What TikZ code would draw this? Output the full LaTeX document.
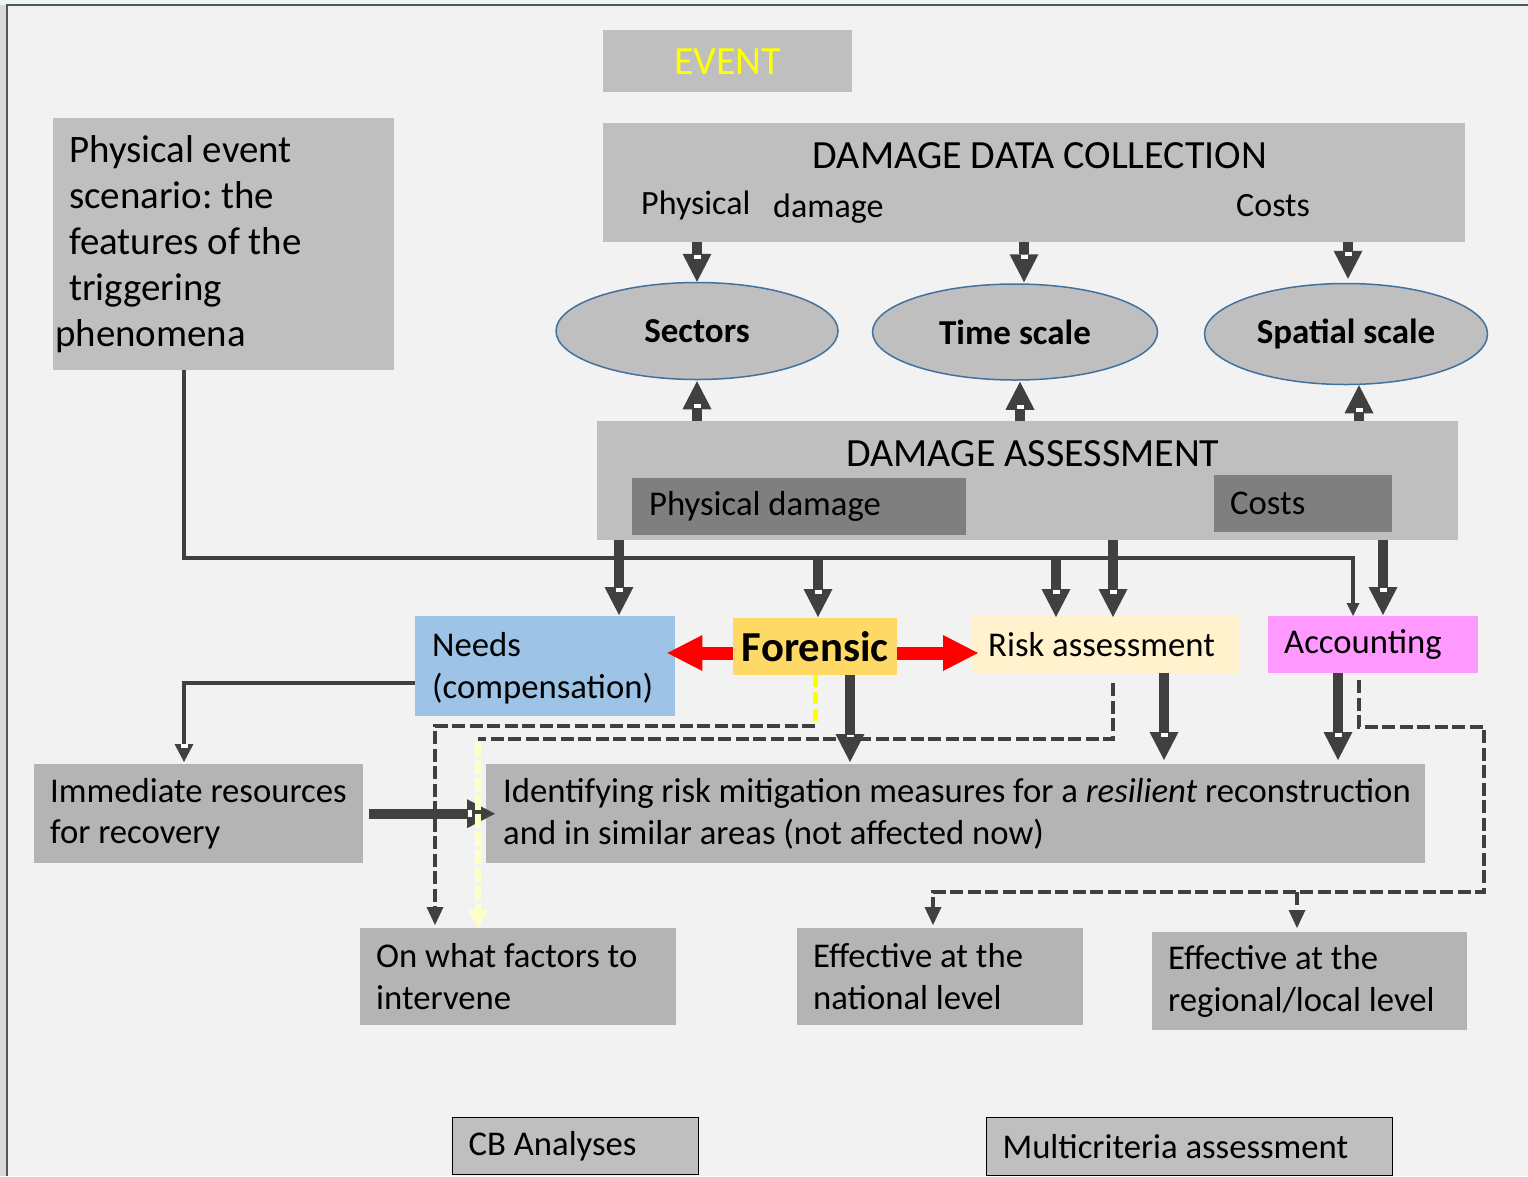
\documentclass[tikz,border=0pt]{standalone}
\usepackage{fontspec}
\setmainfont{Carlito}
\usetikzlibrary{arrows.meta,shapes.geometric,decorations.markings}
\definecolor{boxgray}{HTML}{BFBFBF}
\definecolor{boxgrayb}{HTML}{B4B4B4}
\definecolor{innergray}{HTML}{7F7F7F}
\definecolor{arr}{HTML}{404040}
\definecolor{paper}{HTML}{F2F2F2}
\definecolor{margin}{HTML}{D9D9D9}
\definecolor{topstrip}{HTML}{EEF6F6}
\definecolor{framec}{HTML}{555555}
\definecolor{needsblue}{HTML}{9DC3E6}
\definecolor{forgold}{HTML}{FFD966}
\definecolor{riskcream}{HTML}{FFF2CC}
\definecolor{accpink}{HTML}{FF99FF}
\definecolor{ellblue}{HTML}{41719C}
\definecolor{paleyellow}{HTML}{FFFFC8}
\definecolor{eventyellow}{HTML}{FFFF00}
\newcommand{\bodyfont}{\fontsize{34.7pt}{41.5pt}\selectfont}
\frenchspacing
\hbadness=10000
\hfuzz=100pt
\begin{document}
\begin{tikzpicture}[x=1pt,y=-1pt,
  box/.style={rectangle, fill=boxgray, inner ysep=0pt, inner xsep=16pt,
    anchor=north west, align=left, font=\bodyfont,
    execute at begin node={\spaceskip=0pt\xspaceskip=0pt\relax}},
  lightbox/.style={box, fill=boxgrayb},
  oval/.style={ellipse, fill=boxgray, draw=ellblue, line width=1.5pt,
    inner sep=0pt, font=\fontsize{35pt}{40pt}\selectfont\bfseries},
  notch/.style={postaction={decorate, decoration={markings,
    mark=at position -#1 with {\fill[white] (-2pt,-3.5pt) rectangle (2pt,3.5pt);}}}},
  fat/.style={draw=arr, line width=10pt,
    -{Triangle[width=29pt,length=28pt,line width=0pt]}, notch=25pt},
  medium/.style={draw=arr, line width=4pt,
    -{Triangle[width=19pt,length=18pt,line width=0pt]}, notch=16pt},
  slim/.style={draw=arr, line width=4pt,
    -{Triangle[width=13pt,length=13pt,line width=0pt]}},
  dashline/.style={draw=arr, line width=4pt, dash pattern=on 13pt off 4.5pt},
  dashtip/.style={-{Triangle[width=17pt,length=18pt,line width=0pt]}},
  redarrow/.style={draw=red, line width=13pt,
    -{Triangle[width=36pt,length=35pt,line width=0pt]}}
]
\useasboundingbox (0,0) rectangle (1528,1176);

% page background and frame
\fill[margin] (0,0) rectangle (1528,1176);
\fill[topstrip] (0,0) rectangle (1528,5);
\fill[paper] (7,5) rectangle (1528,1176);
\draw[framec, line width=2.5pt] (7,1176) -- (7,5) -- (1528,5);

% top row
\node[box, text width=217pt, minimum height=62pt, align=center,
  font=\fontsize{40pt}{46pt}\selectfont, text=eventyellow] (ev) at (603,30) {EVENT};
\node[box, text width=309pt, minimum height=252pt,
  font=\fontsize{38.9pt}{46pt}\selectfont] (pe) at (53,118)
  {Physical event\\scenario: the\\features of the\\triggering\\\hspace*{-14pt}phenomena};

\node[box, minimum width=862pt, minimum height=119pt, inner sep=0pt] (ddc) at (603,123) {};
\node[font=\fontsize{40pt}{46pt}\selectfont] (ddct) at (1040,156) {DAMAGE DATA COLLECTION};
\node[anchor=west, inner sep=0pt, font=\fontsize{34pt}{40pt}\selectfont] (ddcp) at (641,205) {Physical};
\node[anchor=west, inner sep=0pt, font=\fontsize{34pt}{40pt}\selectfont] (ddcd) at (773,209) {damage};
\node[anchor=west, inner sep=0pt, font=\fontsize{34pt}{40pt}\selectfont] (ddcc) at (1236,206) {Costs};

% ellipses
\node[oval, minimum width=282pt, minimum height=97pt] (sec) at (697,331) {Sectors};
\node[oval, minimum width=285pt, minimum height=96pt] (tim) at (1015,332) {Time scale};
\node[oval, minimum width=283pt, minimum height=101pt] (spa) at (1346,334) {Spatial scale};

% damage assessment
\node[box, minimum width=861pt, minimum height=119pt, inner sep=0pt] (da) at (597,421) {};
\node[font=\fontsize{40pt}{46pt}\selectfont] (dat) at (1033,454) {DAMAGE ASSESSMENT};
\node[box, fill=innergray, inner xsep=17pt, text width=300pt, minimum height=57pt] (dapd) at (632,478) {Physical damage};
\node[box, fill=innergray, inner xsep=16pt, text width=146pt, minimum height=57pt] (dacs) at (1214,475) {Costs};

% middle row
\node[box, fill=needsblue, inner xsep=17pt, text width=226pt, minimum height=100pt] (needs) at (415,616) {\rule{0pt}{28pt}Needs\\(compensation)};
\node[box, fill=forgold, inner xsep=0pt, text width=164pt, minimum height=57pt, align=center,
  font=\fontsize{42.7pt}{48pt}\selectfont\bfseries] (for) at (733,618) {Forensic};
\node[box, fill=riskcream, text width=235pt, minimum height=57pt] (risk) at (972,616) {Risk assessment};
\node[box, fill=accpink, text width=178pt, minimum height=57pt] (acc) at (1268,616) {Accounting};

% lower boxes
\node[lightbox, text width=297pt, minimum height=99pt] (imm) at (34,764) {Immediate resources\\for recovery};
\node[lightbox, inner xsep=17pt, text width=905pt, minimum height=99pt] (idf) at (486,764)
  {\mbox{Identifying risk mitigation measures for a \textit{resilient} reconstruction}\\and in similar areas (not affected now)};
\node[lightbox, text width=284pt, minimum height=97pt] (onw) at (360,928) {On what factors to\\intervene};
\node[lightbox, text width=254pt, minimum height=97pt] (nat) at (797,928) {Effective at the\\national level};
\node[lightbox, text width=283pt, minimum height=98pt] (reg) at (1152,932) {Effective at the\\regional/local level};

% bottom labels
\node[box, draw=black, line width=1.2pt, text width=214pt, minimum height=57pt] (cba) at (452,1117) {CB Analyses};
\node[box, draw=black, line width=1.2pt, text width=374pt, minimum height=58pt] (mca) at (986,1117) {Multicriteria assessment};

% reference columns and turning points for connectors
\coordinate (xTd) at (1024,0);
\coordinate (xSd) at (1348,0);
\coordinate (xTu) at (1020,0);
\coordinate (xSu) at (1359,0);
\coordinate (busL) at (184,558);
\coordinate (busR) at (1353,558);
\coordinate (xN) at (619,0);
\coordinate (xF) at (818,0);
\coordinate (xR1) at (1056,0);
\coordinate (xR2) at (1113,0);
\coordinate (xA) at (1383,0);
\coordinate (xF2) at (850,0);
\coordinate (xR3) at (1164,0);
\coordinate (xA2) at (1338,0);
\coordinate (redL) at (0,653);
\coordinate (yd1) at (815,726);
\coordinate (yd2) at (478,739);
\coordinate (xOW) at (435,0);
\coordinate (xNat) at (933,0);
\coordinate (xReg) at (1297,0);
\coordinate (ac1) at (1484,727);
\coordinate (ac2) at (1484,892);

% collection feeds the three dimensions
\draw[fat] (ddc.south -| sec.north) -- (sec.north);
\draw[fat] (ddc.south -| xTd) -- ([yshift=1pt]tim.north -| xTd);
\draw[fat] (ddc.south -| xSd) -- ([yshift=4pt]spa.north -| xSd);
% assessment feeds them from below
\draw[fat] (da.north -| sec.south) -- ([yshift=-1pt]sec.south);
\draw[fat] (da.north -| xTu) -- ([yshift=-1pt]tim.south -| xTu);
\draw[fat] (da.north -| xSu) -- (spa.south -| xSu);

% event scenario bus
\draw[slim] (pe.south -| busL) -- (busL) -- (busR) -- (acc.north -| busR);
\draw[fat] (da.south -| xN) -- ([yshift=1pt]needs.north -| xN);
\draw[fat] (busL -| xF) -- ([yshift=1pt]for.north -| xF);
\draw[fat] (busL -| xR1) -- ([yshift=-1pt]risk.north -| xR1);
\draw[fat] (da.south -| xR2) -- ([yshift=-1pt]risk.north -| xR2);
\draw[fat] (da.south -| xA) -- ([yshift=1pt]acc.north -| xA);

% forensic towards needs and risk
\draw[redarrow] (for.west |- redL) -- ([xshift=-8pt]needs.east |- redL);
\draw[redarrow] (for.east |- redL) -- ([xshift=6pt]risk.west |- redL);

% needs to immediate resources
\draw[medium] ([yshift=-17pt]needs.west) -| ([yshift=2pt]imm.north -| busL);
\draw[fat] ([xshift=6pt]imm.east) -- ([xshift=9pt]idf.west);

% towards mitigation measures
\draw[fat] (for.south -| xF2) -- ([yshift=2pt]idf.north -| xF2);
\draw[fat] (risk.south -| xR3) -- ([yshift=4pt]idf.north -| xR3);
\draw[fat] (acc.south -| xA2) -- ([yshift=4pt]idf.north -| xA2);

% dashed links
\draw[draw=eventyellow, line width=5pt, dash pattern=on 12pt off 5pt] (for.south -| yd1) -- (yd1);
\draw[dashline, dashtip] (yd1) -| ([yshift=3pt]onw.north -| xOW);
\draw[dashline] ([yshift=-10pt]risk.south -| xR2) |- (yd2);
\draw[draw=paleyellow, line width=6pt, dash pattern=on 14pt off 4pt,
  -{Triangle[width=19pt,length=18pt,line width=0pt]}] ([yshift=-3pt]yd2) -- (onw.north -| yd2);
\draw[dashline, dashtip] ([yshift=-7pt]acc.south -| xSu) |- (ac1) -- (ac2) -| ([yshift=3pt]nat.north -| xNat);
\draw[dashline, dashtip] (ac2 -| xReg) -- ([yshift=4pt]reg.north -| xReg);
\end{tikzpicture}
\end{document}
